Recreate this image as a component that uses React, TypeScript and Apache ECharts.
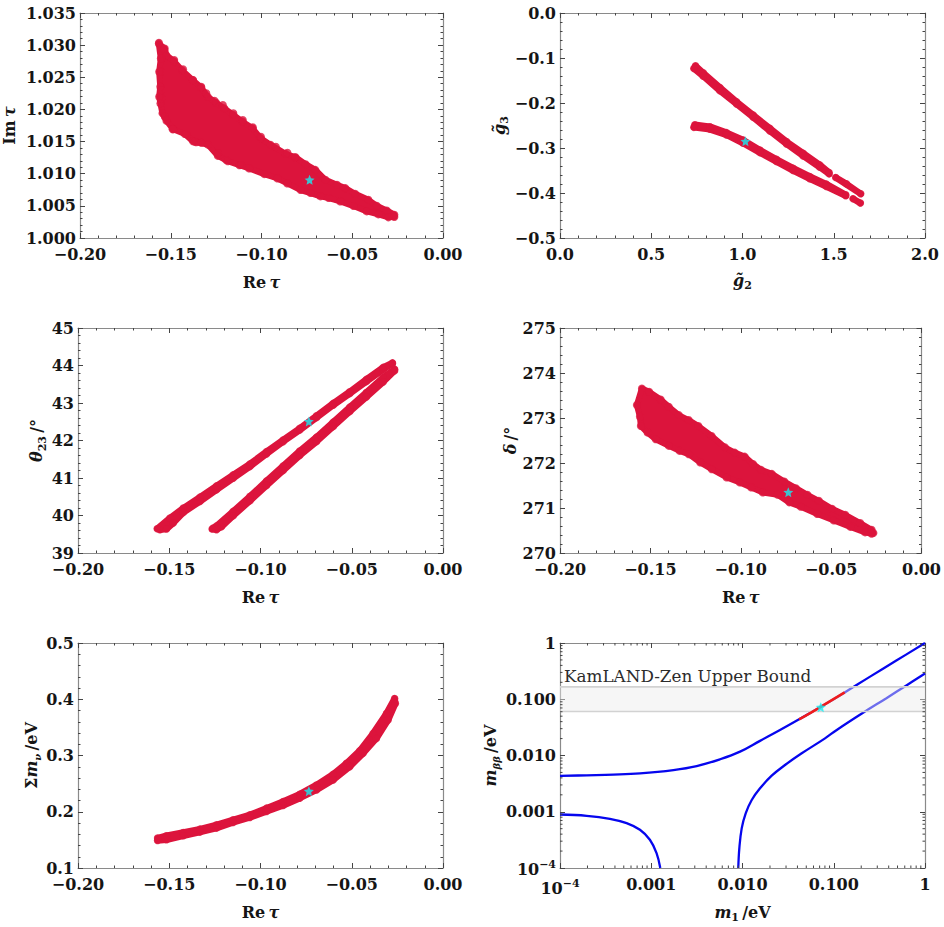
import React, { useEffect, useRef } from "react";
import * as echarts from "echarts";

type P = [number, number];

const FONT = "DejaVu Serif";
const CRIMSON = "#dc143c";
const CYAN = "#14eef4";
const BLUE = "#0606ee";
const RED = "#f01c1c";
const FRAME = "#8a8a8a";
const TICK = "#444444";
const INK = "#151515";
const STAR = "path://M50 0 L64 32 L99 36 L72 58 L80 94 L50 76 L20 94 L28 58 L1 36 L36 32 Z";

const imTauOutline: P[] = [[-.1566,1.03024],[-.1533,1.02947],[-.1524,1.02844],[-.1482,1.0275],[-.1438,1.02611],[-.1378,1.02456],[-.1332,1.02342],[-.1296,1.02197],[-.125,1.02104],[-.1204,1.02016],[-.1155,1.01913],[-.1104,1.0181],[-.1049,1.01706],[-.1004,1.01551],[-.0949,1.01448],[-.0867,1.01308],[-.0812,1.01256],[-.0757,1.01148],[-.0703,1.0106],[-.0648,1.00905],[-.0584,1.00827],[-.0538,1.00776],[-.0484,1.00688],[-.0411,1.00594],[-.0365,1.00501],[-.031,1.00429],[-.0268,1.00362],[-.0268,1.00326],[-.0301,1.00321],[-.0356,1.00367],[-.042,1.00414],[-.0493,1.00497],[-.0566,1.00569],[-.063,1.00621],[-.0675,1.00647],[-.073,1.00699],[-.0785,1.00746],[-.0858,1.00849],[-.0912,1.00926],[-.0985,1.00994],[-.1068,1.01082],[-.1122,1.01133],[-.1186,1.01195],[-.1241,1.01278],[-.1296,1.01453],[-.136,1.01489],[-.1378,1.01505],[-.1423,1.01619],[-.1487,1.01691],[-.1524,1.01825],[-.1546,1.01939],[-.1557,1.02094],[-.1564,1.02197],[-.1558,1.02352],[-.1564,1.02585],[-.1555,1.02792]];
const imTauEdgePoints: P[] = [[-.1565,1.03038],[-.1536,1.02924],[-.1551,1.02795],[-.1481,1.02769],[-.1432,1.02624],[-.1377,1.02458],[-.1332,1.02354],[-.1304,1.02251],[-.1259,1.02136],[-.1213,1.02069],[-.1155,1.0194],[-.1103,1.01836],[-.1048,1.01722],[-.1003,1.01576],[-.0921,1.0142],[-.0857,1.01327],[-.0816,1.01255],[-.1554,1.02587],[-.1554,1.02302],[-.1551,1.02173],[-.1533,1.01887],[-.149,1.01691],[-.1414,1.01618],[-.1368,1.01498],[-.1332,1.01482],[-.124,1.01318],[-.1195,1.01213],[-.1112,1.01136]];
const g3Upper: P[] = [[.7427,-.1174],[.7847,-.1329],[.8759,-.1654],[.9672,-.1972],[1.0584,-.2267],[1.1497,-.2563],[1.2409,-.2858],[1.3321,-.3117],[1.4233,-.3375],[1.4744,-.3545],[1.4744,-.3575],[1.4233,-.3427],[1.3321,-.3176],[1.2409,-.291],[1.1497,-.2622],[1.0584,-.2319],[.9672,-.2024],[.8759,-.1728],[.7847,-.1403],[.7336,-.1233]];
const g3UpperTail: P[] = [[1.5109,-.3656],[1.5693,-.3796],[1.6478,-.4018]];
const g3Lower: P[] = [[.739,-.2482],[.8212,-.2526],[.9124,-.2659],[1.0036,-.2821],[1.0949,-.3043],[1.1861,-.325],[1.2774,-.3449],[1.3686,-.3634],[1.4598,-.3803],[1.5657,-.404],[1.5657,-.4062],[1.4598,-.3855],[1.3686,-.3685],[1.2774,-.3501],[1.1861,-.3301],[1.0949,-.3102],[1.0036,-.2895],[.9124,-.271],[.8212,-.2585],[.7336,-.2541]];
const g3LowerTail: P[] = [[1.6058,-.4128],[1.646,-.4224]];
const thetaUpper: P[] = [[-.1566,39.647],[-.1496,39.931],[-.1423,40.197],[-.1332,40.489],[-.1241,40.79],[-.115,41.083],[-.1058,41.375],[-.0967,41.703],[-.0876,42.013],[-.0785,42.324],[-.0693,42.66],[-.0602,42.99],[-.0511,43.3],[-.042,43.63],[-.0328,43.95],[-.0277,44.07],[-.0277,44.05],[-.0328,43.89],[-.042,43.57],[-.0511,43.25],[-.0602,42.94],[-.0693,42.61],[-.0785,42.279],[-.0876,41.969],[-.0967,41.641],[-.1058,41.304],[-.115,40.994],[-.1241,40.684],[-.1332,40.374],[-.1423,40.081],[-.1478,39.798],[-.1515,39.638],[-.1551,39.62]];
const thetaLower: P[] = [[-.1259,39.665],[-.1241,39.72],[-.115,40.11],[-.1058,40.51],[-.0967,40.92],[-.0876,41.32],[-.0785,41.72],[-.0693,42.09],[-.0602,42.49],[-.0511,42.89],[-.042,43.28],[-.0328,43.68],[-.0265,43.9],[-.0265,43.86],[-.0328,43.56],[-.042,43.16],[-.0511,42.77],[-.0602,42.37],[-.0693,41.97],[-.0785,41.6],[-.0876,41.2],[-.0967,40.8],[-.1058,40.39],[-.115,39.99],[-.1214,39.7],[-.1241,39.62],[-.1265,39.638]];
const deltaOutline: P[] = [[-.1575,273.287],[-.1547,273.656],[-.1507,273.582],[-.1443,273.412],[-.1398,273.25],[-.1343,273.065],[-.1288,272.954],[-.1234,272.821],[-.1161,272.6],[-.1088,272.349],[-.1033,272.231],[-.0978,272.142],[-.0932,271.979],[-.0887,271.847],[-.0828,271.758],[-.0759,271.588],[-.0695,271.44],[-.0631,271.293],[-.0568,271.16],[-.0495,270.982],[-.0422,270.849],[-.0339,270.665],[-.0276,270.517],[-.0266,270.443],[-.0276,270.428],[-.0312,270.458],[-.0394,270.581],[-.0485,270.724],[-.0577,270.866],[-.0668,271.029],[-.0732,271.125],[-.0796,271.295],[-.0878,271.346],[-.0942,271.457],[-.1005,271.568],[-.1078,271.679],[-.1161,271.863],[-.1224,272.011],[-.1288,272.196],[-.1339,272.27],[-.1398,272.38],[-.1471,272.528],[-.1516,272.676],[-.1553,272.821],[-.1558,273.028]];
const sumOutline: P[] = [[-.1564,.1532],[-.1515,.1573],[-.1423,.1632],[-.1332,.1691],[-.1241,.1768],[-.115,.1857],[-.1058,.1945],[-.0967,.2064],[-.0876,.2182],[-.0785,.2312],[-.0693,.2477],[-.0602,.2666],[-.0529,.2861],[-.0456,.3086],[-.0383,.3393],[-.031,.3747],[-.0265,.4013],[-.0261,.3925],[-.0301,.3629],[-.0365,.3304],[-.0438,.3038],[-.0511,.2802],[-.0602,.2566],[-.0693,.2388],[-.0785,.2241],[-.0876,.2111],[-.0967,.2004],[-.1058,.1898],[-.115,.1809],[-.1241,.1709],[-.1332,.1638],[-.1423,.1573],[-.1515,.1502],[-.1564,.149]];

const starImTau: P[] = [[-.0735,1.00905]];
const starG: P[] = [[1.016,-.285]];
const starTheta: P[] = [[-.0735,42.51]];
const starDelta: P[] = [[-.0737,271.35]];
const starSum: P[] = [[-.0735,.2365]];
const starMbb: P[] = [[.0721,.0724]];

const mbbUpper: P[] = [[.0001,.00433],[.000196,.00445],[.000384,.00458],[.000753,.00482],[.00175,.00552],[.00315,.0065],[.00566,.00855],[.0094,.0117],[.01556,.0182],[.02576,.0283],[.04266,.0448],[.0706,.0719],[.1318,.1322],[.2476,.25],[.485,.487],[1,1]];
const mbbLowerLeft: P[] = [[.0001,.000893],[.000196,.000847],[.000352,.000749],[.000537,.000628],[.000752,.000478],[.000966,.000318],[.001143,.000184],[.001256,.0001]];
const mbbLowerRight: P[] = [[.00899,.0001],[.00923,.000224],[.0098,.000507],[.01084,.000938],[.01262,.00162],[.01556,.00261],[.02089,.00438],[.02924,.00678],[.04457,.01094],[.0802,.02018],[.1069,.0282],[.2094,.0575],[.3776,.1045],[.6252,.176],[1,.286]];
const mbbRed: P[] = [[.0417,.0438],[.0706,.0719],[.1318,.1322]];
const kamlandBand = [.0607, .166];
const logDecadesX = [.0001, .001, .01, .1];
const logMultipliers = [2, 3, 4, 5, 6, 7, 8, 9];

const xTicksTau = { min: -.2, max: 0, interval: .05 };

const nameRich = {
  r: { fontFamily: FONT, fontWeight: "bold", fontSize: 16, color: INK, lineHeight: 22, verticalAlign: "middle" },
  i: { fontFamily: FONT, fontWeight: "bold", fontStyle: "italic", fontSize: 16, color: INK, lineHeight: 22, verticalAlign: "middle" },
  s: { fontFamily: FONT, fontWeight: "bold", fontStyle: "italic", fontSize: 10, color: INK, lineHeight: 12, verticalAlign: "bottom" },
  d: { fontFamily: FONT, fontWeight: "bold", fontSize: 11, color: INK, lineHeight: 12, verticalAlign: "bottom" },
};

const minus = (s: string) => s.replace("-", "\u2212");
const LEFTS = [78, 560];
const TOPS = [13, 328, 643];
const labelStyle = { fontFamily: FONT, fontWeight: "bold", fontSize: 16, color: INK, lineHeight: 12 };

function axisPair(kind: "x" | "y", gridIndex: number, cfg: any) {
  const line = { show: true, onZero: false, lineStyle: { color: FRAME, width: 1.2 } };
  const tick = { show: true, inside: true, length: 5, lineStyle: { color: TICK, width: 1 } };
  const isLog = cfg.type === "log";
  const minor = { show: !isLog, splitNumber: 5, length: 2.5, lineStyle: { color: TICK, width: 1 } };
  const base: any = {
    gridIndex, type: cfg.type ?? "value", min: cfg.min, max: cfg.max, splitLine: { show: false }, axisLine: line, axisTick: tick, minorTick: minor,
  };
  if (!isLog) base.interval = cfg.interval;
  return [
    {
      ...base,
      position: kind === "x" ? "bottom" : "left",
      name: cfg.name,
      nameLocation: "middle",
      nameGap: cfg.gap,
      nameRotate: kind === "y" ? 90 : 0,
      nameTextStyle: { rich: nameRich, fontFamily: FONT, fontWeight: "bold", fontSize: 16, color: INK },
      axisLabel: { ...labelStyle, margin: kind === "x" ? 10 : 4, formatter: cfg.fmt, rich: cfg.rich },
    },
    { ...base, position: kind === "x" ? "top" : "right", axisLabel: { show: false } },
  ];
}

function blob(panel: number, outline: P[], rough = false, extra: P[] = []) {
  const ax = panel * 2;
  return [
    {
      type: "custom", xAxisIndex: ax, yAxisIndex: ax, data: outline, silent: true,
      renderItem: (params: any, api: any) =>
        params.dataIndex !== 0
          ? { type: "group", children: [] }
          : {
              type: "polygon",
              shape: { points: outline.map((p) => api.coord(p)) },
              style: { fill: CRIMSON, stroke: CRIMSON, lineWidth: rough ? 6 : 6.5, lineJoin: "round" },
            },
    },
    { type: "scatter", xAxisIndex: ax, yAxisIndex: ax, data: [...outline, ...extra], symbolSize: rough ? 8 : 7.5, itemStyle: { color: CRIMSON }, silent: true },
  ];
}
const star = (panel: number, pt: P[], z = 5) => ({
  type: "scatter", xAxisIndex: panel * 2, yAxisIndex: panel * 2, data: pt, symbol: STAR, symbolSize: 10, z, itemStyle: { color: CYAN }, silent: true,
});
const logLine = (data: P[], color: string, width: number, z = 2) => ({
  type: "line", xAxisIndex: 10, yAxisIndex: 10, data, smooth: .4, showSymbol: false, symbol: "none", z, silent: true, clip: true,
  lineStyle: { color, width },
});

const fmtFixed = (d: number) => (v: number) => minus(v.toFixed(d));
const fmtLog = (v: number) => {
  const e = Math.round(Math.log10(v));
  if (e === -4) return "{b|10}{s|\u22124}";
  if (e === 0) return "1";
  return v.toFixed(3);
};
const logRich = {
  b: { ...labelStyle, verticalAlign: "bottom", lineHeight: 18 },
  s: { fontFamily: FONT, fontWeight: "bold", fontSize: 11, color: INK, verticalAlign: "top", lineHeight: 18 },
};

function buildOption() {
  const grid: any[] = [];
  for (const t of TOPS) for (const l of LEFTS) grid.push({ left: l, top: t, width: 365, height: 225, containLabel: false });
  const tauName = "{r|Re\u2009}{i|\u03c4}";
  const xs = [
    ...axisPair("x", 0, { ...xTicksTau, name: tauName, gap: 33, fmt: fmtFixed(2) }),
    ...axisPair("x", 1, { min: 0, max: 2, interval: .5, name: "{i|g\u0303}{d|2}", gap: 31, fmt: fmtFixed(1) }),
    ...axisPair("x", 2, { ...xTicksTau, name: tauName, gap: 33, fmt: fmtFixed(2) }),
    ...axisPair("x", 3, { ...xTicksTau, name: tauName, gap: 33, fmt: fmtFixed(2) }),
    ...axisPair("x", 4, { ...xTicksTau, name: tauName, gap: 33, fmt: fmtFixed(2) }),
    ...axisPair("x", 5, { type: "log", min: .0001, max: 1, name: "{i|m}{d|1}{r|\u2009/eV}", gap: 33, fmt: fmtLog, rich: logRich }),
  ];
  const ys = [
    ...axisPair("y", 0, { min: 1, max: 1.035, interval: .005, name: "{r|Im\u2009}{i|\u03c4}", gap: 60, fmt: fmtFixed(3) }),
    ...axisPair("y", 1, { min: -.5, max: 0, interval: .1, name: "{i|g\u0303}{d|3}", gap: 50, fmt: fmtFixed(1) }),
    ...axisPair("y", 2, { min: 39, max: 45, interval: 1, name: "{i|\u03b8}{d|23}{r|\u2009/\u00b0}", gap: 29, fmt: fmtFixed(0) }),
    ...axisPair("y", 3, { min: 270, max: 275, interval: 1, name: "{i|\u03b4}{r|\u2009/\u00b0}", gap: 38, fmt: fmtFixed(0) }),
    ...axisPair("y", 4, { min: .1, max: .5, interval: .1, name: "{r|\u03a3}{i|m}{s|\u03bd}{r|\u2009/eV}", gap: 33, fmt: fmtFixed(1) }),
    ...axisPair("y", 5, { type: "log", min: .0001, max: 1, name: "{i|m}{s|\u03b2\u03b2}{r|\u2009/eV}", gap: 58, fmt: fmtLog, rich: logRich }),
  ];

  const logMinor = {
    type: "custom", xAxisIndex: 10, yAxisIndex: 10, data: [[.0001, .0001]], silent: true, z: 6,
    renderItem: (_: any, api: any) => {
      const children: any[] = [];
      const style = { stroke: TICK, lineWidth: 1 };
      const [x0, y1] = api.coord([.0001, .0001]);
      const [x1, y0] = api.coord([1, 1]);
      for (const d of logDecadesX) for (const m of logMultipliers) {
        const v = d * m;
        const [x, y] = api.coord([v, v]);
        children.push({ type: "line", shape: { x1: x, y1: y1, x2: x, y2: y1 - 2.5 }, style });
        children.push({ type: "line", shape: { x1: x, y1: y0, x2: x, y2: y0 + 2.5 }, style });
        children.push({ type: "line", shape: { x1: x0, y1: y, x2: x0 + 2.5, y2: y }, style });
        children.push({ type: "line", shape: { x1: x1, y1: y, x2: x1 - 2.5, y2: y }, style });
      }
      return { type: "group", children };
    },
  };
  const bandSeries = {
    type: "custom", xAxisIndex: 10, yAxisIndex: 10, data: [[.0001, kamlandBand[0]]], silent: true, z: 3,
    renderItem: (_: any, api: any) => {
      const [x0, yLow] = api.coord([.0001, kamlandBand[0]]);
      const [x1, yHigh] = api.coord([1, kamlandBand[1]]);
      const edge = { stroke: "#d2d2d2", lineWidth: 1.6 };
      return {
        type: "group",
        children: [
          { type: "rect", shape: { x: x0, y: yHigh, width: x1 - x0, height: yLow - yHigh }, style: { fill: "rgba(236,236,236,0.45)" } },
          { type: "line", shape: { x1: x0, y1: yHigh, x2: x1, y2: yHigh }, style: edge },
          { type: "line", shape: { x1: x0, y1: yLow, x2: x1, y2: yLow }, style: edge },
        ],
      };
    },
  };

  const series: any[] = [
    ...blob(0, imTauOutline, true, imTauEdgePoints), star(0, starImTau),
    ...blob(1, g3Upper), ...blob(1, g3UpperTail), ...blob(1, g3Lower), ...blob(1, g3LowerTail), star(1, starG),
    ...blob(2, thetaUpper), ...blob(2, thetaLower), star(2, starTheta),
    ...blob(3, deltaOutline, true), star(3, starDelta),
    ...blob(4, sumOutline), star(4, starSum),
    logLine(mbbUpper, BLUE, 2.3), logLine(mbbLowerLeft, BLUE, 2.3), logLine(mbbLowerRight, BLUE, 2.3),
    bandSeries,
    logLine(mbbRed, RED, 2.6, 4),
    star(5, starMbb),
    logMinor,
  ];

  return {
    animation: false,
    backgroundColor: "#ffffff",
    grid,
    xAxis: xs,
    yAxis: ys,
    series,
    graphic: [
      {
        type: "text", left: 564, top: 667, z: 10, silent: true,
        style: { text: "KamLAND-Zen Upper Bound", fontFamily: FONT, fontSize: 16.8, fill: "#2c2c2c" },
      },
    ],
  };
}

export default function App() {
  const ref = useRef<HTMLDivElement>(null);
  useEffect(() => {
    const chart = echarts.init(ref.current!, undefined, { renderer: "svg" });
    chart.setOption(buildOption() as any);
    return () => chart.dispose();
  }, []);
  return <div ref={ref} style={{ position: "absolute", left: 0, top: 0, width: 944, height: 927 }} />;
}
